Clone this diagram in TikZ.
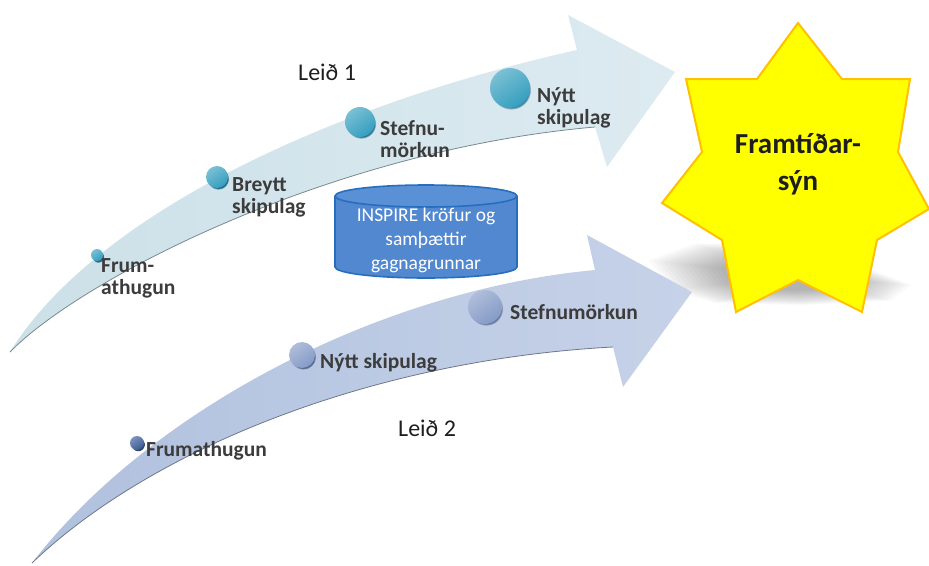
\documentclass[tikz,border=0pt]{standalone}
\usepackage{fontspec}
\setmainfont{Carlito}
\usetikzlibrary{shadows}
\definecolor{arrAL}{RGB}{204,224,232}
\definecolor{arrAR}{RGB}{221,235,241}
\definecolor{arrBL}{RGB}{176,193,222}
\definecolor{arrBR}{RGB}{198,210,232}
\definecolor{edgeA}{RGB}{120,138,145}
\definecolor{edgeB}{RGB}{110,120,140}
\definecolor{dotA}{RGB}{52,158,190}
\definecolor{dotAdark}{RGB}{28,100,130}
\definecolor{dotB}{RGB}{132,154,198}
\definecolor{dotBdark}{RGB}{78,98,138}
\definecolor{dotC}{RGB}{55,90,150}
\definecolor{cylfill}{RGB}{82,136,208}
\definecolor{cyltop}{RGB}{90,144,214}
\definecolor{cylline}{RGB}{40,110,190}
\definecolor{starfill}{RGB}{255,255,0}
\definecolor{starline}{RGB}{255,192,0}
\definecolor{labeltext}{RGB}{60,60,60}
\definecolor{titletext}{RGB}{30,30,30}
\tikzset{
  lbl/.style={anchor=base west, inner sep=0pt, align=left, text=labeltext,
    font=\bfseries\fontsize{21.5}{21.5}\selectfont},
  leid/.style={anchor=base west, inner sep=0pt, text=titletext,
    font=\fontsize{24}{26}\selectfont},
  discA/.style={circle, inner sep=0pt, top color=dotA!65!white, bottom color=dotA,
    shading angle=35,
    circular drop shadow={shadow xshift=1.2pt, shadow yshift=-1.8pt, fill=dotAdark, opacity=0.95, shadow scale=1}},
  discB/.style={circle, inner sep=0pt, top color=dotB!65!white, bottom color=dotB,
    shading angle=35,
    circular drop shadow={shadow xshift=1.2pt, shadow yshift=-1.8pt, fill=dotBdark, opacity=0.95, shadow scale=1}},
  discC/.style={circle, inner sep=0pt, top color=dotC!65!white, bottom color=dotC,
    shading angle=35,
    circular drop shadow={shadow xshift=1pt, shadow yshift=-1.4pt, fill=dotC!60!black, opacity=0.95, shadow scale=1}},
}
\begin{document}
\begin{tikzpicture}[x=1pt,y=-1pt]
\useasboundingbox (0,0) rectangle (929,565);

% soft shadow of the star (many thin layers shrinking toward the centre)
\foreach \s in {1.12,1.08,...,0.56}{
  \fill[black, opacity=0.022, shift={(790,276)}, scale=\s, shift={(-790,-276)}]
    (664,262) -- (705,247) -- (760,247) -- (840,262) -- (898,284) -- (880,298)
    -- (800,302) -- (722,300) -- (684,288) -- cycle;
}

% arrow 1 (Leið 1)
\path[left color=arrAL, right color=arrAR]
  (10,352) .. controls (95,215) and (330,105) .. (577,50)
  -- (568,15) -- (675,72) -- (607,167) -- (595,127)
  .. controls (330,150) and (80,280) .. (10,352) -- cycle;
\draw[edgeA, line width=0.8pt]
  (595,127) .. controls (330,150) and (80,280) .. (10,352);

% arrow 2 (Leið 2)
\path[left color=arrBL, right color=arrBR]
  (32,563) .. controls (150,410) and (380,290) .. (595,270)
  -- (587,235) -- (692,292) -- (623,387) -- (613,347)
  .. controls (370,360) and (150,450) .. (32,563) -- cycle;
\draw[edgeB, line width=0.8pt]
  (613,347) .. controls (370,360) and (150,450) .. (32,563);

% dots on arrow 1
\node[discA, minimum size=12pt] (a1) at (97,255) {};
\node[discA, minimum size=22pt] (a2) at (217,177) {};
\node[discA, minimum size=30pt] (a3) at (360,122) {};
\node[discA, minimum size=40pt] (a4) at (510,88) {};
% dots on arrow 2
\node[discC, minimum size=14pt] (b1) at (137,443) {};
\node[discB, minimum size=26pt] (b2) at (302,355) {};
\node[discB, minimum size=34pt] (b3) at (485,307) {};

% labels arrow 1 (anchor = baseline of the last line)
\node[lbl] (t1) at (101,294) {Frum-\\athugun};
\node[lbl] (t2) at (232,213) {Breytt\\skipulag};
\node[lbl] (t3) at (380,157) {Stefnu-\\mörkun};
\node[lbl] (t4) at (537,124) {Nýtt\\skipulag};
% labels arrow 2
\node[lbl] (u1) at (146,456) {Frumathugun};
\node[lbl] (u2) at (320,368) {Nýtt skipulag};
\node[lbl] (u3) at (510,319) {Stefnumörkun};

\node[leid] (l1) at (298,80) {Leið 1};
\node[leid] (l2) at (398,436) {Leið 2};

% database cylinder
\fill[cylfill] (335,196) -- (335,267)
  .. controls (335,273.07) and (375.74,278) .. (426,278)
  .. controls (476.26,278) and (517,273.07) .. (517,267)
  -- (517,196) -- cycle;
\draw[cylline, line width=1.6pt] (335,196) -- (335,267)
  .. controls (335,273.07) and (375.74,278) .. (426,278)
  .. controls (476.26,278) and (517,273.07) .. (517,267)
  -- (517,196);
\filldraw[fill=cyltop, draw=cylline, line width=1.6pt] (426,196) ellipse [x radius=91, y radius=11];
\node[inner sep=0pt, text=white, align=center,
  font=\fontsize{19.5}{24}\selectfont] (cyl) at (426,240)
  {INSPIRE kröfur og\\samþættir\\gagnagrunnar};

% star
\filldraw[fill=starfill, draw=starline, line width=2pt, line join=miter]
  (798,23) -- (842,79) -- (910,79) -- (898,152) -- (929,209) -- (877,240)
  -- (862,312) -- (798,280) -- (736,312) -- (722,240) -- (662,203)
  -- (702,152) -- (686,79) -- (757,79) -- cycle;
\node[inner sep=0pt, align=center, text=titletext,
  font=\bfseries\fontsize{29}{37}\selectfont] (vision) at (798,164)
  {Framtíðar-\\sýn};
\end{tikzpicture}
\end{document}
